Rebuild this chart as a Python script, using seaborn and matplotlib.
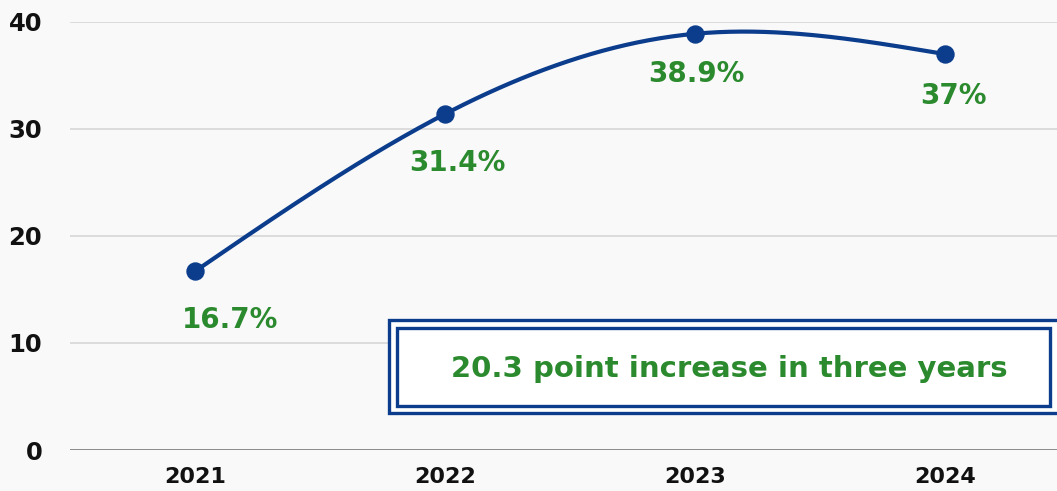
"""
Line chart: share by year, with smooth curve and an annotation box.
"""
import numpy as np
import pandas as pd
import seaborn as sns
import matplotlib.pyplot as plt
from matplotlib.patches import Rectangle

years = ["2021", "2022", "2023", "2024"]
values = [16.7, 31.4, 38.9, 37.0]
point_labels = ["16.7%", "31.4%", "38.9%", "37%"]
y_ticks = [0, 10, 20, 30, 40]
note = "20.3 point increase in three years"

BLUE = "#0b3d8c"
GREEN = "#2b8a2e"
FONT = ["DejaVu Sans"]


def natural_spline(x, y, n=200):
    # natural cubic spline through the data points, used only to draw the curve
    x = np.asarray(x, float)
    y = np.asarray(y, float)
    k = len(x)
    h = np.diff(x)
    A = np.zeros((k, k))
    b = np.zeros(k)
    A[0, 0] = A[-1, -1] = 1
    for i in range(1, k - 1):
        A[i, i - 1] = h[i - 1]
        A[i, i] = 2 * (h[i - 1] + h[i])
        A[i, i + 1] = h[i]
        b[i] = 3 * ((y[i + 1] - y[i]) / h[i] - (y[i] - y[i - 1]) / h[i - 1])
    c = np.linalg.solve(A, b)
    xs, ys = [], []
    for i in range(k - 1):
        t = np.linspace(0, h[i], n // (k - 1))
        bi = (y[i + 1] - y[i]) / h[i] - h[i] * (2 * c[i] + c[i + 1]) / 3
        di = (c[i + 1] - c[i]) / (3 * h[i])
        xs.append(x[i] + t)
        ys.append(y[i] + bi * t + c[i] * t ** 2 + di * t ** 3)
    return np.concatenate(xs), np.concatenate(ys)


df = pd.DataFrame({"year": years, "value": values})
df["pos"] = np.arange(len(df))

sns.set_theme(style="white")
plt.rcParams["font.family"] = FONT

fig = plt.figure(figsize=(10.57, 4.91), dpi=100, facecolor="#f9f9fa")
ax = fig.add_axes([70 / 1057, 41 / 491, 1000 / 1057, 428 / 491])
ax.set_facecolor("none")

sx, sy = natural_spline(df["pos"], df["value"])
ax.plot(sx, sy, color=BLUE, lw=3, solid_capstyle="round", zorder=3)
sns.scatterplot(data=df, x="pos", y="value", ax=ax, color=BLUE, s=150,
                edgecolor=BLUE, zorder=4, legend=False)

offsets = [(25, -35), (9, -35), (1, -29), (6, -30)]
for x, y, lab, off in zip(df["pos"], df["value"], point_labels, offsets):
    ax.annotate(lab, (x, y), xytext=off, textcoords="offset points",
                ha="center", va="center", color=GREEN, fontsize=20,
                fontweight="bold", zorder=5)

ax.set_xlim(-0.5, 3.5)
ax.set_ylim(0, 40)
ax.set_yticks(y_ticks)
ax.set_xticks(df["pos"])
ax.set_xticklabels(years)
ax.set_xlabel("")
ax.set_ylabel("")
for t in y_ticks[1:]:
    ax.axhline(t, color="#dcdcdc", lw=1.4, zorder=1)
ax.axhline(0, color="#8a8a8a", lw=1.4, zorder=1)
for s in ax.spines.values():
    s.set_visible(False)
ax.tick_params(axis="y", length=0, pad=20, labelsize=17.5)
ax.tick_params(axis="x", length=0, pad=12, labelsize=16)
for lab in ax.get_xticklabels() + ax.get_yticklabels():
    lab.set_fontweight("bold")
    lab.set_color("#111111")

# double bordered note box
ax.add_patch(Rectangle((0.319, 0.0864), 0.70, 0.2173, transform=ax.transAxes,
                       fill=True, facecolor="white", edgecolor=BLUE, lw=2.4,
                       clip_on=False, zorder=2))
ax.add_patch(Rectangle((0.327, 0.103), 0.653, 0.182, transform=ax.transAxes,
                       fill=False, edgecolor=BLUE, lw=2.4, clip_on=False, zorder=2))
ax.text(0.6595, 0.19, note, transform=ax.transAxes, ha="center", va="center",
        color=GREEN, fontsize=21, fontweight="bold", zorder=3)

fig.savefig("out.png", dpi=100, facecolor=fig.get_facecolor())
